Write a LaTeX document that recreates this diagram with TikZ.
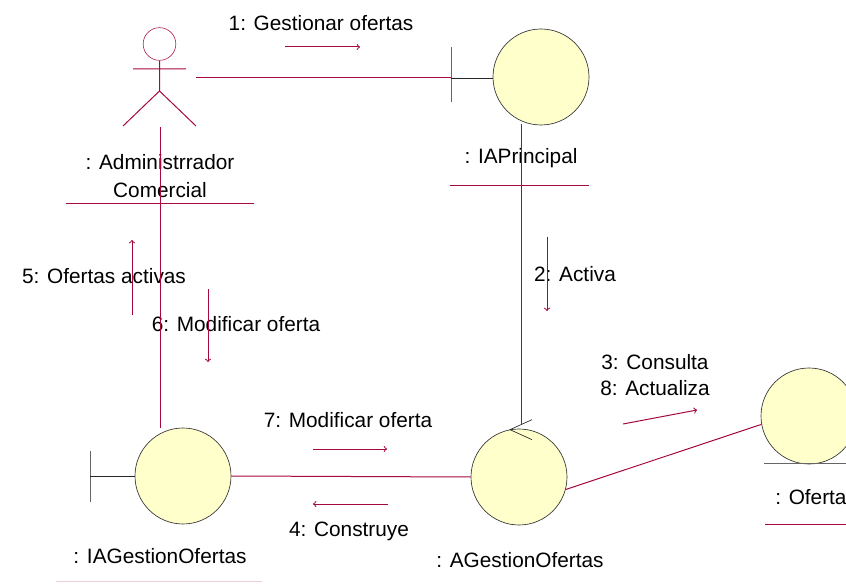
\documentclass[tikz,border=0pt]{standalone}
\usepackage{fontspec}
\setmainfont{Liberation Sans}
\usepackage{xcolor}
\usetikzlibrary{arrows, calc, positioning}
\definecolor{rosered}{HTML}{A6093D}
\definecolor{roseyellow}{HTML}{FFFFCC}
\tikzset{
    objcircle/.style={draw=black!80, fill=roseyellow, circle, minimum size=72pt, inner sep=0pt, line width=0.5pt},
    objlabel/.style={font=\fontsize{15.6pt}{20pt}\selectfont, align=center, inner sep=0pt, text=black},
    link/.style={rosered, line width=0.75pt},
    msg/.style={rosered, line width=0.75pt, -{>[scale=2.6]}},
    bar/.style={black!60, line width=0.75pt},
    stem/.style={black!85, line width=0.5pt}
}
\begin{document}
\begin{tikzpicture}[x=0.75pt, y=-0.75pt]
                        \useasboundingbox (0, 0) rectangle (846, 584);

                        \node[draw=rosered, circle, minimum size=24.5pt, inner sep=0pt, line width=0.4pt] (head) at (159.5, 44) {};
                        \coordinate (hip) at (159.5, 91);
                        \coordinate (armL) at (133, 69);
                        \coordinate (armR) at (186, 69);
                        \coordinate (legL) at (123, 126);
                        \coordinate (legR) at (196, 126);
                        \coordinate (actorS) at (160.5, 127);
                        \coordinate (actorE) at (196, 78);

                        \node[objcircle] (princ) at (541, 77) {};
                        \node[objcircle] (igest) at (183, 476) {};
                        \node[objcircle] (agest) at (519, 477) {};
                        \node[objcircle] (ofe) at (809, 416) {};

                        \coordinate (princB) at (451, 78);
                        \coordinate (princT1) at (451, 47);
                        \coordinate (princT2) at (451, 102);
                        \coordinate (igestB) at (90, 476);
                        \coordinate (igestT1) at (90, 451);
                        \coordinate (igestT2) at (90, 502);

                        \node[objlabel] (l0) at (321, 23) {1: Gestionar ofertas};
                        \node[objlabel] (ladm) at (160, 176) {: Administrrador\\[1pt]Comercial};
                        \node[objlabel] (lpri) at (521, 158) {: IAPrincipal};
                        \node[objlabel] (l2) at (575, 274) {2: Activa};
                        \node[objlabel] (l5) at (104, 276) {5: Ofertas activas};
                        \node[objlabel] (l6) at (236, 324) {6: Modificar oferta};
                        \node[objlabel] (l3) at (655, 375) {3: Consulta\\[-1pt]8: Actualiza};
                        \node[objlabel] (l7) at (348, 420) {7: Modificar oferta};
                        \node[objlabel] (l4) at (349, 531) {4: Construye};
                        \node[objlabel] (ligest) at (160, 556) {: IAGestionOfertas};
                        \node[objlabel] (lagest) at (520, 560) {: AGestionOfertas};
                        \node[objlabel, anchor=west] (lofe) at (775, 497) {: Ofertas};

                        % lines under the names
                        \draw[link] (66, 204) -- (254, 204);
                        \draw[link] (450, 186) -- (589, 186);
                        \draw[link, rosered!20] (56, 581) -- (262, 581);
                        \draw[link] (765, 524) -- (846, 524);
                        \draw[bar] (764, 463) -- (846, 463);

                        \draw[link]
                        (head.south) -- (hip)
                        (armL) -- (armR)
                        (legL) -- (hip) -- (legR);

                        \draw[bar] (princT1) -- (princT2);
                        \draw[stem] (princB) -- (princ.west |- princB);
                        \draw[bar] (igestT1) -- (igestT2);
                        \draw[stem] (igestB) -- (igest.west);

                        \draw[stem] ($(agest.north)+(13, -9)$) -- ($(agest.north)+(-9, 1)$) -- ($(agest.north)+(13, 11)$);

                        \coordinate (princS) at (521, 124);
                        \coordinate (agestN) at (521, 424);
                        \coordinate (igestN) at (160.5, 428);
                        \draw[link] (actorE) -- (princB);
                        \draw[link] (actorS) -- (igestN);
                        \draw[link] (princS) -- (agestN);
                        \draw[link] (igest.east) -- (agest.west);
                        \draw[link] (agest.-15) -- (ofe.190);

                        \coordinate (m1a) at (285, 47);
                        \coordinate (m1b) at (360, 47);
                        \coordinate (m5a) at (132, 315);
                        \coordinate (m5b) at (132, 240);
                        \coordinate (m6a) at (208, 289);
                        \coordinate (m6b) at (208, 362);
                        \coordinate (m2a) at (547, 237);
                        \coordinate (m2b) at (547, 311);
                        \coordinate (m7a) at (313, 449);
                        \coordinate (m7b) at (387, 449);
                        \coordinate (m4a) at (388, 504);
                        \coordinate (m4b) at (313, 504);
                        \coordinate (m3a) at (623, 424);
                        \coordinate (m3b) at (697, 410);

                        \draw
                        (m1a) edge[msg] (m1b)
                        (m5a) edge[msg] (m5b)
                        (m6a) edge[msg] (m6b)
                        (m2a) edge[msg] (m2b)
                        (m7a) edge[msg] (m7b)
                        (m4a) edge[msg] (m4b)
                        (m3a) edge[msg] (m3b);
                    \end{tikzpicture}
\end{document}
